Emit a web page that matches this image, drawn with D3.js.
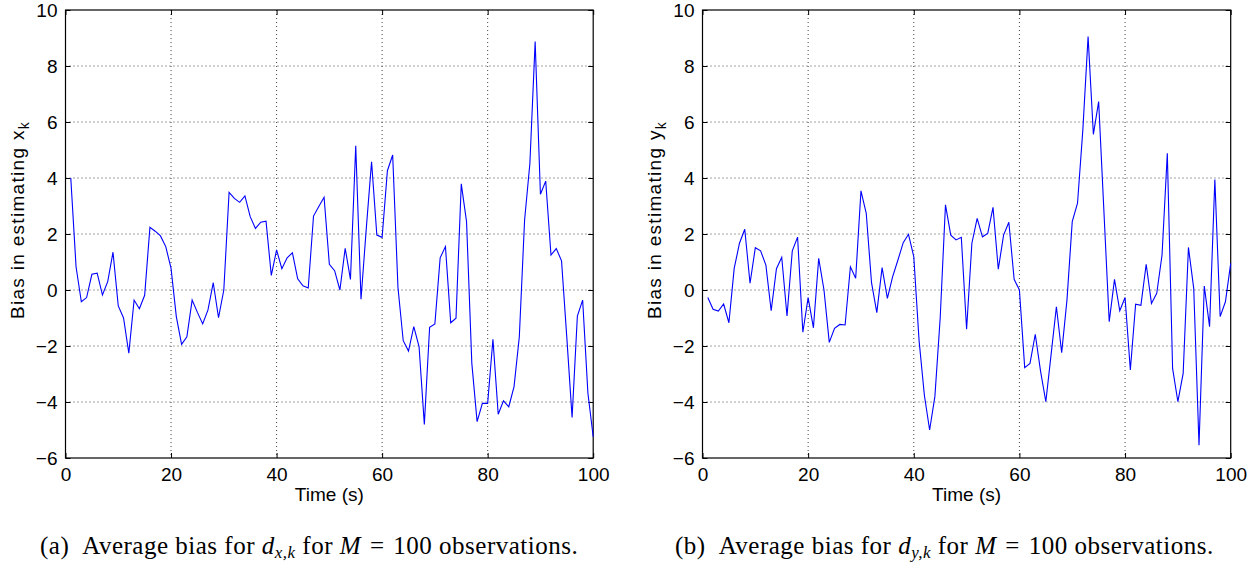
<!DOCTYPE html>
<html lang="en">
<head>
  <meta charset="UTF-8">
  <title>Average bias</title>
  <style>
    body { margin: 0; background: #fff; }
    .tick text { font-family: "Liberation Sans", Arial, sans-serif; font-size: 19px; fill: #000; }
    .axis-label { font-family: "Liberation Sans", Arial, sans-serif; font-size: 19px; fill: #000; }
    .caption { font-family: "Liberation Serif", "Times New Roman", serif; font-size: 25px; fill: #000; letter-spacing: 0.5px; }
    .grid line { stroke: #444; stroke-dasharray: 1,3; stroke-width: 1; }
    .series { fill: none; stroke: #0000ff; stroke-width: 1.1; }
  </style>
  <script src="https://d3js.org/d3.v7.min.js"></script>
</head>
<body>
  <div id="chart"></div>
  <script>
    // -----------------------------
    // Data
    // -----------------------------
    const timeSteps = d3.range(1, 101);

    const biasX = [
      4.0, 0.83, -0.42, -0.27, 0.56, 0.6, -0.18, 0.3, 1.35, -0.57,
      -1.0, -2.26, -0.36, -0.67, -0.19, 2.24, 2.1, 1.93, 1.55, 0.77,
      -0.95, -1.94, -1.67, -0.36, -0.8, -1.21, -0.71, 0.26, -0.99, 0.0,
      3.49, 3.27, 3.13, 3.36, 2.62, 2.2, 2.42, 2.46, 0.52, 1.43,
      0.76, 1.15, 1.33, 0.4, 0.15, 0.07, 2.64, 2.98, 3.31, 0.92,
      0.69, 0.0, 1.49, 0.38, 5.15, -0.33, 2.2, 4.58, 1.96, 1.88,
      4.26, 4.82, 0.1, -1.81, -2.18, -1.31, -2.02, -4.8, -1.33, -1.21,
      1.15, 1.55, -1.17, -1.01, 3.79, 2.44, -2.62, -4.7, -4.05, -4.05,
      -1.76, -4.44, -3.96, -4.17, -3.45, -1.67, 2.5, 4.52, 8.87, 3.42,
      3.89, 1.25, 1.48, 1.04, -1.7, -4.55, -0.93, -0.36, -3.69, -5.24
    ];

    const biasY = [
      -0.27, -0.69, -0.75, -0.5, -1.17, 0.77, 1.67, 2.17, 0.24, 1.51,
      1.4, 0.89, -0.74, 0.76, 1.17, -0.93, 1.4, 1.89, -1.51, -0.27,
      -1.35, 1.13, 0.0, -1.87, -1.37, -1.23, -1.25, 0.83, 0.42, 3.54,
      2.74, 0.26, -0.81, 0.8, -0.3, 0.48, 1.07, 1.69, 1.99, 1.19,
      -1.8, -3.75, -5.0, -3.8, -1.0, 3.04, 1.96, 1.79, 1.88, -1.4,
      1.67, 2.56, 1.9, 2.02, 2.95, 0.74, 1.96, 2.42, 0.38, 0.0,
      -2.77, -2.62, -1.58, -2.9, -3.99, -2.3, -0.6, -2.24, -0.36, 2.44,
      3.1, 5.7, 9.05, 5.56, 6.73, 2.8, -1.13, 0.38, -0.74, -0.27,
      -2.86, -0.51, -0.55, 0.92, -0.48, -0.12, 1.25, 4.88, -2.8, -3.99,
      -2.98, 1.52, 0.06, -5.54, 0.14, -1.31, 3.95, -0.95, -0.42, 0.95
    ];

    const xTicks = [0, 20, 40, 60, 80, 100];
    const yTicks = [-6, -4, -2, 0, 2, 4, 6, 8, 10];

    // -----------------------------
    // Canvas
    // -----------------------------
    const width = 1256;
    const height = 573;

    const svg = d3.select("#chart")
      .append("svg")
      .attr("width", width)
      .attr("height", height);

    const fmt = d => d < 0 ? "\u2212" + Math.abs(d) : String(d);

    function drawPanel(opts) {
      const x = d3.scaleLinear().domain([0, 100]).range([opts.left, opts.right]);
      const y = d3.scaleLinear().domain([-6, 10]).range([opts.bottom, opts.top]);
      const g = svg.append("g");

      // dotted grid
      const grid = g.append("g").attr("class", "grid");
      grid.selectAll("line.gx")
        .data(xTicks.slice(1, -1))
        .join("line")
        .attr("class", "gx")
        .attr("x1", d => x(d)).attr("x2", d => x(d))
        .attr("y1", opts.top).attr("y2", opts.bottom);
      grid.selectAll("line.gy")
        .data(yTicks.slice(1, -1))
        .join("line")
        .attr("class", "gy")
        .attr("x1", opts.left).attr("x2", opts.right)
        .attr("y1", d => y(d)).attr("y2", d => y(d));

      // axes (ticks inward, all four sides)
      g.append("g")
        .attr("transform", `translate(0,${opts.bottom})`)
        .call(d3.axisBottom(x).tickValues(xTicks).tickSize(-5).tickPadding(10).tickFormat(fmt))
        .call(a => a.select(".domain").remove());
      g.append("g")
        .attr("transform", `translate(0,${opts.top})`)
        .call(d3.axisTop(x).tickValues(xTicks).tickSize(-5).tickFormat(""))
        .call(a => a.select(".domain").remove());
      g.append("g")
        .attr("transform", `translate(${opts.left},0)`)
        .call(d3.axisLeft(y).tickValues(yTicks).tickSize(-5).tickPadding(8).tickFormat(fmt))
        .call(a => a.select(".domain").remove());
      g.append("g")
        .attr("transform", `translate(${opts.right},0)`)
        .call(d3.axisRight(y).tickValues(yTicks).tickSize(-5).tickFormat(""))
        .call(a => a.select(".domain").remove());

      g.selectAll(".tick line").attr("stroke", "#000");

      // box
      g.append("rect")
        .attr("x", opts.left).attr("y", opts.top)
        .attr("width", opts.right - opts.left)
        .attr("height", opts.bottom - opts.top)
        .attr("fill", "none")
        .attr("stroke", "#000")
        .attr("stroke-width", 1.2);

      // series
      const line = d3.line()
        .x((d, i) => x(timeSteps[i]))
        .y(d => y(d));
      g.append("path")
        .datum(opts.values)
        .attr("class", "series")
        .attr("d", line);

      // x label
      g.append("text")
        .attr("class", "axis-label")
        .attr("x", (opts.left + opts.right) / 2)
        .attr("y", opts.bottom + 43)
        .attr("text-anchor", "middle")
        .text("Time (s)");

      // y label
      const yl = g.append("text")
        .attr("class", "axis-label")
        .attr("transform", `translate(${opts.left - 42},${(opts.top + opts.bottom) / 2 - 14}) rotate(-90)`)
        .attr("text-anchor", "middle")
        .attr("font-size", 20)
        .attr("letter-spacing", 1.3);
      yl.append("tspan").text("Bias in estimating " + opts.variable);
      yl.append("tspan").attr("dy", 5).attr("font-size", 14).text("k");

      // caption
      const cap = g.append("text")
        .attr("class", "caption")
        .attr("x", opts.captionX)
        .attr("y", 554);
      cap.append("tspan").text(opts.tag + "\u2002Average bias for ");
      cap.append("tspan").attr("font-style", "italic").text("d");
      cap.append("tspan").attr("font-size", 17).attr("dy", 4)
        .attr("font-style", "italic").text(opts.variable + ",k");
      cap.append("tspan").attr("dy", -4).text(" for ");
      cap.append("tspan").attr("font-style", "italic").text("M");
      cap.append("tspan").text("\u2004=\u2004100 observations.");
    }

    drawPanel({
      left: 65.5, right: 593.2, top: 10, bottom: 458,
      values: biasX, variable: "x", tag: "(a)", captionX: 40
    });

    drawPanel({
      left: 702.5, right: 1230.7, top: 10, bottom: 458,
      values: biasY, variable: "y", tag: "(b)", captionX: 675
    });
  </script>
</body>
</html>
